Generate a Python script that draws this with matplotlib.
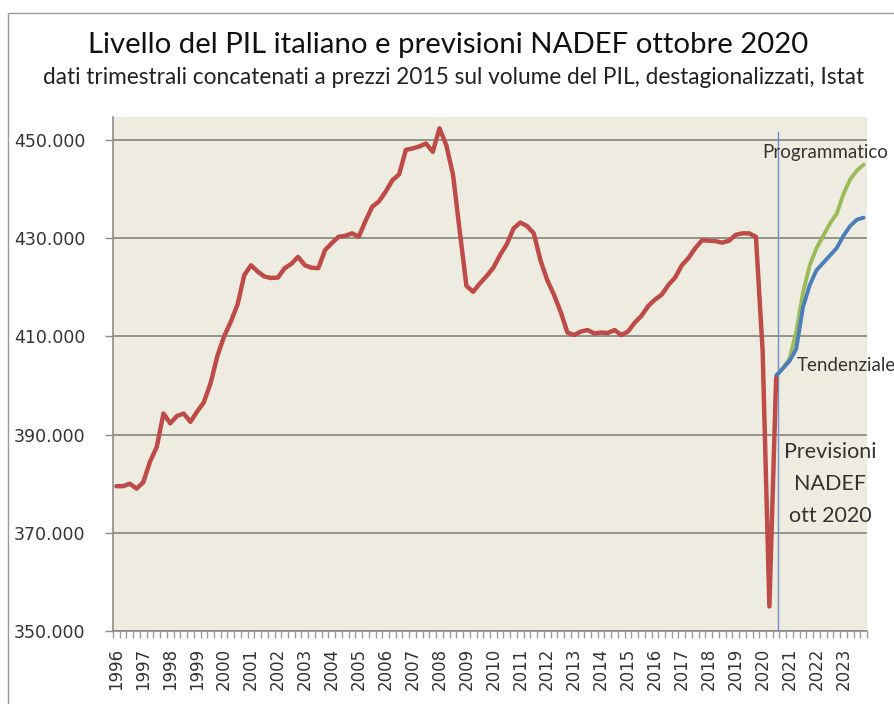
import matplotlib
matplotlib.use("Agg")
import matplotlib.pyplot as plt
import numpy as np
from matplotlib.patches import Rectangle
from matplotlib.ticker import FixedLocator

# ---------------- data ----------------
years = list(range(1996, 2024))
quarters_per_year = 4

# PIL trimestrale, migliaia di milioni (1996Q1 .. 2020Q3)
pil_storico = [
    379.5, 379.5, 380.0, 379.0,   # 1996
    380.3, 384.5, 387.5, 394.3,   # 1997
    392.3, 393.8, 394.3, 392.6,   # 1998
    394.7, 396.6, 400.5, 406.0,   # 1999
    410.0, 413.0, 416.5, 422.5,   # 2000
    424.5, 423.2, 422.2, 421.9,   # 2001
    422.0, 423.9, 424.8, 426.2,   # 2002
    424.5, 424.0, 423.9, 427.6,   # 2003
    429.0, 430.3, 430.5, 431.0,   # 2004
    430.3, 433.5, 436.4, 437.5,   # 2005
    439.5, 441.8, 443.0, 448.0,   # 2006
    448.3, 448.7, 449.3, 447.6,   # 2007
    452.4, 449.0, 443.0, 431.5,   # 2008
    420.3, 419.1, 420.8, 422.3,   # 2009
    424.0, 426.6, 428.8, 432.0,   # 2010
    433.2, 432.5, 431.0, 425.5,   # 2011
    421.5, 418.5, 415.0, 410.8,   # 2012
    410.3, 411.0, 411.3, 410.6,   # 2013
    410.8, 410.7, 411.3, 410.3,   # 2014
    411.0, 412.8, 414.2, 416.2,   # 2015
    417.5, 418.5, 420.5, 422.0,   # 2016
    424.5, 426.0, 428.0, 429.6,   # 2017
    429.5, 429.4, 429.1, 429.5,   # 2018
    430.7, 431.0, 431.0, 430.3,   # 2019
    407.0, 355.0, 401.5,          # 2020 Q1-Q3
]
# previsioni NADEF (2020Q3 .. 2023Q4)
pil_programmatico = [402.0, 403.5, 405.5, 411.0, 419.0, 424.5, 428.0,
                     430.5, 433.0, 435.0, 439.0, 442.0, 443.8, 445.0]
pil_tendenziale = [402.0, 403.5, 405.0, 407.5, 416.0, 420.5, 423.5,
                   425.0, 426.5, 428.0, 430.5, 432.5, 433.8, 434.2]

y_ticks = [350, 370, 390, 410, 430, 450]
y_tick_labels = ["350.000", "370.000", "390.000", "410.000", "430.000", "450.000"]

title = "Livello del PIL italiano e previsioni NADEF ottobre 2020"
subtitle = ("dati trimestrali concatenati a prezzi 2015 sul volume del PIL, "
            "destagionalizzati, Istat")

# ---------------- figure ----------------
W, H = 895, 704
fig = plt.figure(figsize=(W / 100, H / 100), dpi=100)
fig.patch.set_facecolor("white")

ax = fig.add_axes([113 / W, 1 - 631 / H, (867 - 113) / W, (631 - 117) / H])
ax.set_facecolor("#EEECE1")

n_q = len(years) * quarters_per_year
x_hist = np.arange(len(pil_storico))
start_fc = len(pil_storico) - 1
x_fc = np.arange(start_fc, start_fc + len(pil_programmatico))

red = "#BE4B48"
green = "#9BBB59"
blue = "#4A7EBB"

ax.plot(x_fc, pil_programmatico, color=green, lw=2.8, solid_capstyle="round",
        solid_joinstyle="round", zorder=3)
ax.plot(x_fc, pil_tendenziale, color=blue, lw=2.8, solid_capstyle="round",
        solid_joinstyle="round", zorder=4)
ax.plot(x_hist, pil_storico, color=red, lw=3.2, solid_capstyle="round",
        solid_joinstyle="round", zorder=5)

ax.axvline(start_fc + 0.25, ymin=0.0, ymax=0.97, color="#6F8FC8", lw=1.0, zorder=2)

ax.set_xlim(-0.5, n_q - 0.5)
ax.set_ylim(350, 454.7)

# y axis
ax.set_yticks(y_ticks)
ax.set_yticklabels(y_tick_labels)
ax.yaxis.grid(True, color="#8C8C84", lw=1.3)
ax.set_axisbelow(True)
ax.tick_params(axis="y", length=6, width=1, color="#8C8C8C", pad=14,
               labelsize=12.5, labelcolor="#333333")

# x axis
major = [i * quarters_per_year for i in range(len(years))]
ax.xaxis.set_major_locator(FixedLocator(major))
ax.set_xticklabels([str(y) for y in years], rotation=90)
ax.xaxis.set_minor_locator(FixedLocator(np.arange(-0.5, n_q, 1.0)))
ax.tick_params(axis="x", which="major", length=0, pad=12, labelsize=12,
               labelcolor="#333333")
ax.tick_params(axis="x", which="minor", length=5, width=1, color="#9A9A9A")

for s in ["top", "right"]:
    ax.spines[s].set_visible(False)
for s in ["left", "bottom"]:
    ax.spines[s].set_color("#8C8C8C")
    ax.spines[s].set_linewidth(1.2)

# annotations
ax.text(96.0, 447.4, "Programmatico", fontsize=13.5, family="Lato",
        color="#333333", ha="left", va="center", clip_on=False, zorder=6)
ax.text(101.0, 404.0, "Tendenziale", fontsize=13.5, family="Lato",
        color="#333333", ha="left", va="center", clip_on=False, zorder=6)
ax.text(106.0, 380.0, "Previsioni\nNADEF\nott 2020", fontsize=15.5,
        family="Lato", color="#333333", ha="center", va="center",
        linespacing=1.75, clip_on=False, zorder=6)

# titles
fig.text(448 / W, 1 - 45 / H, title, fontsize=21.2, family="Lato",
         color="#111111", ha="center", va="center")
fig.text(454 / W, 1 - 78 / H, subtitle, fontsize=16.3, family="Lato",
         color="#222222", ha="center", va="center")

# chart frame
fig.patches.append(Rectangle((8 / W, -0.1), 2.0, 1 - 13 / H + 0.1,
                             transform=fig.transFigure, fill=False,
                             edgecolor="#9A9A9A", lw=1.0))

fig.savefig("out.png", dpi=100)
